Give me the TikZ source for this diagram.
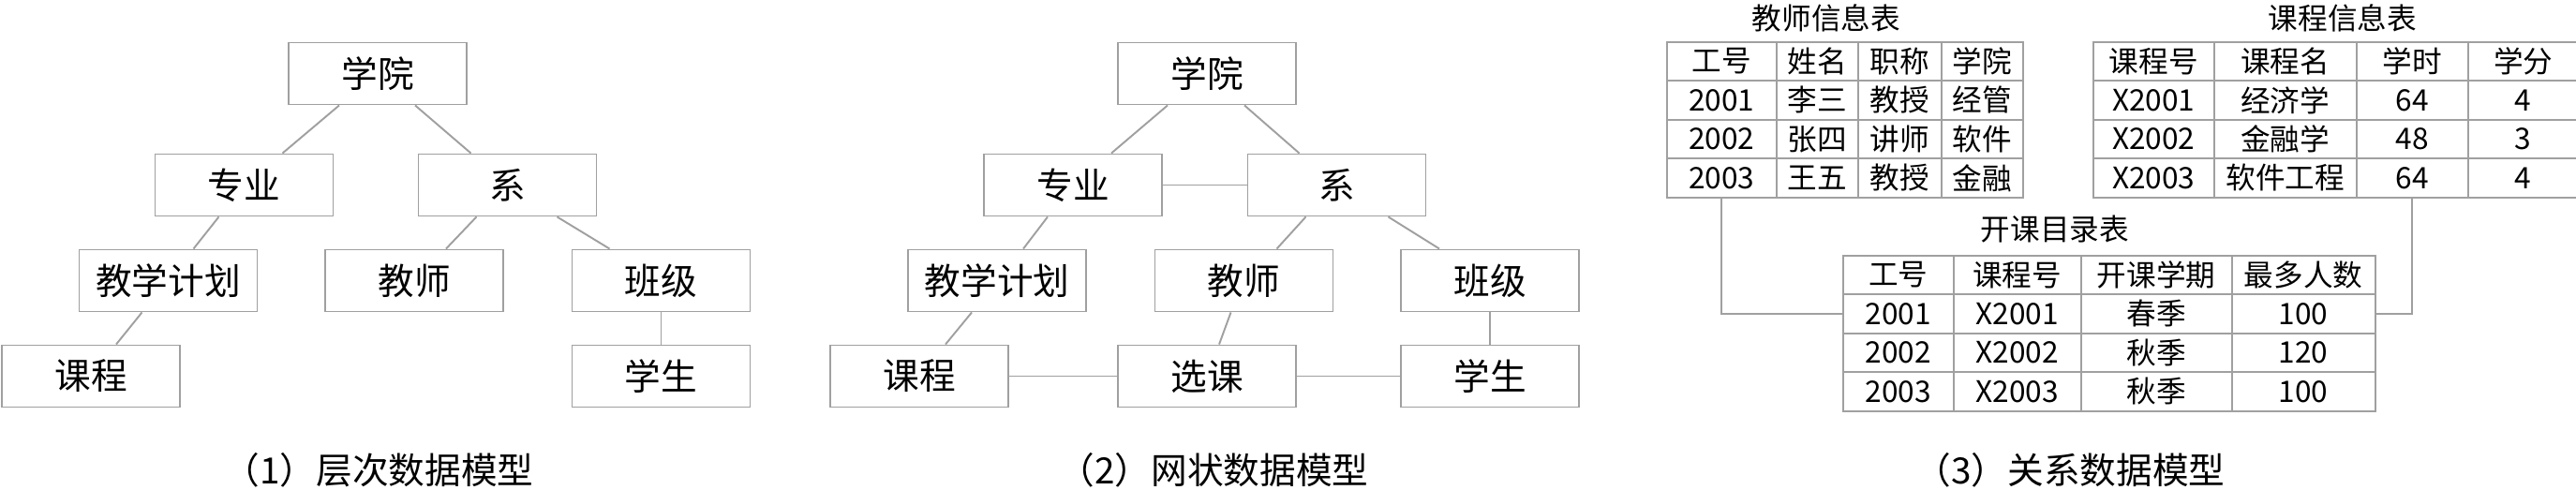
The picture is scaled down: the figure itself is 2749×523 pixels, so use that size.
\documentclass[tikz,border=0pt]{standalone}
\usepackage{fontspec}
\setmainfont{Noto Sans CJK SC}
\usetikzlibrary{matrix}
\definecolor{linegray}{HTML}{A0A0A0}

\begin{document}
\begin{tikzpicture}[x=0.1mm,y=-0.1mm,
    box/.style={draw=linegray,line width=0.55pt,minimum width=19mm,minimum height=6.6mm,inner sep=0pt,font=\fontsize{11pt}{13pt}\selectfont},
    link/.style={draw=linegray,line width=0.55pt},
    caption/.style={anchor=south,inner sep=0pt,font=\fontsize{11pt}{13pt}\selectfont},
    tabtitle/.style={font=\fontsize{9pt}{11pt}\selectfont},
    tab/.style={matrix of nodes,anchor=north west,inner sep=0pt,column sep=-0.55pt,row sep=-0.55pt,
      nodes={draw=linegray,line width=0.55pt,minimum height=4.15mm,inner sep=0pt,anchor=center,font=\fontsize{9pt}{11pt}\selectfont}}]
    \useasboundingbox (0,0) rectangle (2749,523);
    %% (1) hierarchical model
    \node[box] (cxy) at (403,78.5) {学院};
    \node[box] (czy) at (260.5,197.5) {专业};
    \node[box] (cx) at (541.5,197.5) {系};
    \node[box] (cjh) at (179.5,299.5) {教学计划};
    \node[box] (cjs) at (442,299.5) {教师};
    \node[box] (cbj) at (705.5,299.5) {班级};
    \node[box] (ckc) at (97,401.5) {课程};
    \node[box] (cxs) at (705.5,401.5) {学生};
    \draw[link] ([xshift=-4.1mm]cxy.south) -- ([xshift=4.1mm]czy.north);
    \draw[link] ([xshift=4mm]cxy.south) -- ([xshift=-3.9mm]cx.north);
    \draw[link] ([xshift=-2.7mm]czy.south) -- ([xshift=2.7mm]cjh.north);
    \draw[link] ([xshift=-3.3mm]cx.south) -- ([xshift=3.4mm]cjs.north);
    \draw[link] ([xshift=5.3mm]cx.south) -- ([xshift=-5.5mm]cbj.north);
    \draw[link] ([xshift=-2.8mm]cjh.south) -- ([xshift=2.7mm]ckc.north);
    \draw[link] (cbj) -- (cxs);
    \node[caption] (cap1) at (404,521) {（1）层次数据模型};
    %% (2) network model
    \node[box] (wxy) at (1288,78.5) {学院};
    \node[box] (wzy) at (1145,197.5) {专业};
    \node[box] (wx) at (1426.5,197.5) {系};
    \node[box] (wjh) at (1064,299.5) {教学计划};
    \node[box] (wjs) at (1327.5,299.5) {教师};
    \node[box] (wbj) at (1590,299.5) {班级};
    \node[box] (wkc) at (981,401.5) {课程};
    \node[box] (wxk) at (1288,401.5) {选课};
    \node[box] (wxs) at (1590,401.5) {学生};
    \draw[link] ([xshift=-4.2mm]wxy.south) -- ([xshift=4.1mm]wzy.north);
    \draw[link] ([xshift=4mm]wxy.south) -- ([xshift=-4mm]wx.north);
    \draw[link] (wzy) -- (wx);
    \draw[link] ([xshift=-2.7mm]wzy.south) -- ([xshift=2.8mm]wjh.north);
    \draw[link] ([xshift=-3.3mm]wx.south) -- ([xshift=3.5mm]wjs.north);
    \draw[link] ([xshift=5.5mm]wx.south) -- ([xshift=-5.4mm]wbj.north);
    \draw[link] ([xshift=-2.7mm]wjh.south) -- ([xshift=2.8mm]wkc.north);
    \draw[link] ([xshift=-1.4mm]wjs.south) -- ([xshift=1.3mm]wxk.north);
    \draw[link] (wbj) -- (wxs);
    \draw[link] (wkc) -- (wxk);
    \draw[link] (wxk) -- (wxs);
    \node[caption] (cap2) at (1295,521) {（2）网状数据模型};
    %% (3) relational model
    \node[tabtitle] (jsbt) at (1949,19) {教师信息表};
    \matrix (jsb) at (1777,43) [tab,
        column 1/.style={nodes={minimum width=11.7mm}},
        column 2/.style={nodes={minimum width=8.7mm}},
        column 3/.style={nodes={minimum width=8.9mm}},
        column 4/.style={nodes={minimum width=8.7mm}}] {
        工号 & 姓名 & 职称 & 学院 \\
        2001 & 李三 & 教授 & 经管 \\
        2002 & 张四 & 讲师 & 软件 \\
        2003 & 王五 & 教授 & 金融 \\
    };
    \node[tabtitle] (kcbt) at (2500,19) {课程信息表};
    \matrix (kcb) at (2232,43) [tab,
        column 1/.style={nodes={minimum width=12.9mm}},
        column 2/.style={nodes={minimum width=15.2mm}},
        column 3/.style={nodes={minimum width=11.9mm}},
        column 4/.style={nodes={minimum width=11.8mm}}] {
        课程号 & 课程名 & 学时 & 学分 \\
        X2001 & 经济学 & 64 & 4 \\
        X2002 & 金融学 & 48 & 3 \\
        X2003 & 软件工程 & 64 & 4 \\
    };
    \node[tabtitle] (kkbt) at (2193,245) {开课目录表};
    \matrix (kkb) at (1965,271) [tab,
        column 1/.style={nodes={minimum width=11.8mm}},
        column 2/.style={nodes={minimum width=13.6mm}},
        column 3/.style={nodes={minimum width=16.1mm}},
        column 4/.style={nodes={minimum width=15.3mm}}] {
        工号 & 课程号 & 开课学期 & 最多人数 \\
        2001 & X2001 & 春季 & 100 \\
        2002 & X2002 & 秋季 & 120 \\
        2003 & X2003 & 秋季 & 100 \\
    };
    \draw[link] (jsb-4-1.south) |- (kkb-2-1.west);
    \draw[link] (kcb-4-3.south) |- (kkb-2-4.east);
    \node[caption] (cap3) at (2209,521) {（3）关系数据模型};
\end{tikzpicture}
\end{document}
